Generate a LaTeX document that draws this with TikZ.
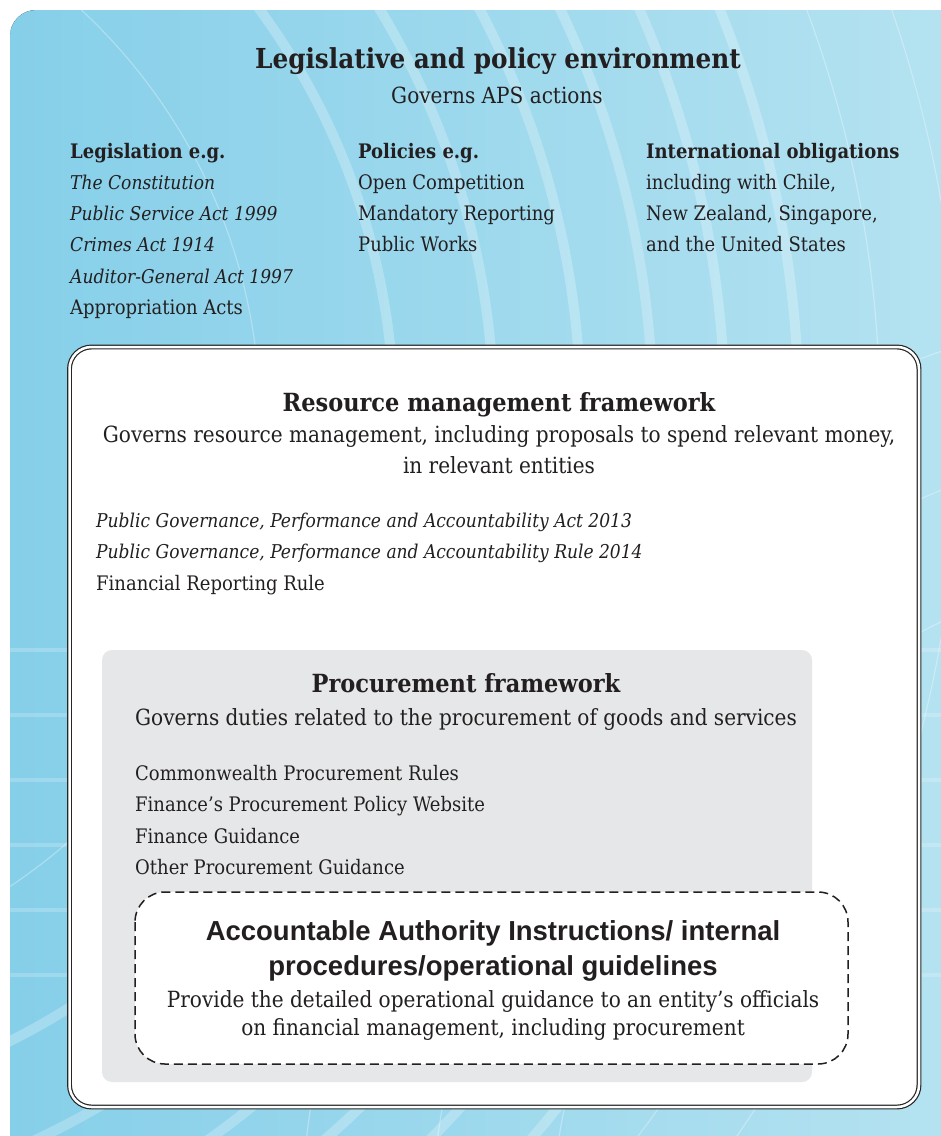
\documentclass[tikz,border=0pt]{standalone}
\usepackage{fontspec}
\setmainfont{DejaVu Serif Condensed}
\newfontfamily\headsans{Liberation Sans}
\usepackage{tikz}

\definecolor{skyleft}{HTML}{86CFE9}
\definecolor{skyright}{HTML}{B6E3F1}
\definecolor{panelgrey}{HTML}{E6E7E8}
\definecolor{ink}{HTML}{231F20}

\newcommand\bodyfont{\fontsize{20}{24}\selectfont}
\newcommand\italfont{\fontsize{19}{24}\selectfont\itshape}
\newcommand\subfont{\fontsize{22.3}{26}\selectfont}
\newcommand\titlefont{\fontsize{25}{30}\selectfont\bfseries}
\newcommand\bigtitlefont{\fontsize{27.5}{32}\selectfont\bfseries}
\newcommand\aaifont{\fontsize{27.5}{32}\selectfont\headsans\bfseries}

\begin{document}
\begin{tikzpicture}[x=1pt,y=-1pt,
  every node/.style={inner sep=0pt,text=ink},
  ln/.style={anchor=base west,font=\bodyfont},
  lnit/.style={anchor=base west,font=\italfont},
  lnbf/.style={anchor=base west,font=\bodyfont\bfseries},
  ctr/.style={anchor=base,font=\subfont},
  ttl/.style={anchor=base,font=\titlefont}]
  \useasboundingbox (0,0) rectangle (941,1136);
  % background with light arcs
  \fill[left color=skyleft,right color=skyright,rounded corners=26] (10,10) rectangle (980,1180);
  \begin{scope}
    \clip[rounded corners=26] (10,10) rectangle (980,1180);
    \foreach \r in {694,794,881,953,1025,1099}
      \draw[white,opacity=0.25,line width=10pt] (-300,420) circle (\r pt);
    \foreach \r in {560,1180,1260}
      \draw[white,opacity=0.3,line width=1.2pt] (-300,420) circle (\r pt);
    \foreach \r in {700,820,950}
      \draw[white,opacity=0.3,line width=1.2pt] (1250,1250) circle (\r pt);
    \foreach \y in {650,715,780,845,910,975}
      \draw[white,opacity=0.2,line width=4pt] (0,\y) -- (941,\y);
  \end{scope}
  % legislative and policy environment
  \node[ttl,font=\bigtitlefont] (env) at (498,68) {Legislative and policy environment};
  \node[ctr] (envsub) at (497,103) {Governs APS actions};
  \node[lnbf] (leg) at (70,158) {Legislation e.g.};
  \node[lnit] (leg1) at (70,189) {The Constitution};
  \node[lnit] (leg2) at (70,220) {Public Service Act 1999};
  \node[lnit] (leg3) at (70,251) {Crimes Act 1914};
  \node[lnit] (leg4) at (70,283) {Auditor-General Act 1997};
  \node[ln] (leg5) at (70,314) {Appropriation Acts};
  \node[lnbf] (pol) at (358,158) {Policies e.g.};
  \node[ln] (pol1) at (358,189) {Open Competition};
  \node[ln] (pol2) at (358,220) {Mandatory Reporting};
  \node[ln] (pol3) at (358,251) {Public Works};
  \node[lnbf] (intl) at (646,158) {International obligations};
  \node[ln] (intl1) at (646,189) {including with Chile,};
  \node[ln] (intl2) at (646,220) {New Zealand, Singapore,};
  \node[ln] (intl3) at (646,251) {and the United States};
  % resource management framework
  \draw[draw=black!85,double=white,double distance=2.5pt,line width=1.2pt,fill=white,rounded corners=22] (69.5,347) rectangle (919,1107);
  \node[ttl] (rmf) at (499,411) {Resource management framework};
  \node[ctr] (rmf1) at (499,442) {Governs resource management, including proposals to spend relevant money,};
  \node[ctr] (rmf2) at (499,473) {in relevant entities};
  \node[lnit] (pgpa1) at (96,527) {Public Governance, Performance and Accountability Act 2013};
  \node[lnit] (pgpa2) at (96,558) {Public Governance, Performance and Accountability Rule 2014};
  \node[ln] (frr) at (96,590) {Financial Reporting Rule};
  % procurement framework
  \fill[panelgrey,rounded corners=10] (102,650) rectangle (812,1082);
  \node[ttl] (proc) at (466,692) {Procurement framework};
  \node[ctr] (proc1) at (466,725) {Governs duties related to the procurement of goods and services};
  \node[ln] (cpr) at (135,780) {Commonwealth Procurement Rules};
  \node[ln] (web) at (135,811) {Finance’s Procurement Policy Website};
  \node[ln] (fg) at (135,843) {Finance Guidance};
  \node[ln] (opg) at (135,874) {Other Procurement Guidance};
  % accountable authority instructions
  \draw[ink,line width=1.5pt,dash pattern=on 9pt off 5pt,fill=white,rounded corners=30] (135,892) rectangle (848,1064);
  \node[anchor=base,font=\aaifont] (aai1) at (493,940) {Accountable Authority Instructions/ internal};
  \node[anchor=base,font=\aaifont] (aai2) at (493,975) {procedures/operational guidelines};
  \node[ctr] (aai3) at (493,1007) {Provide the detailed operational guidance to an entity’s officials};
  \node[ctr] (aai4) at (493,1035) {on financial management, including procurement};
\end{tikzpicture}
\end{document}
